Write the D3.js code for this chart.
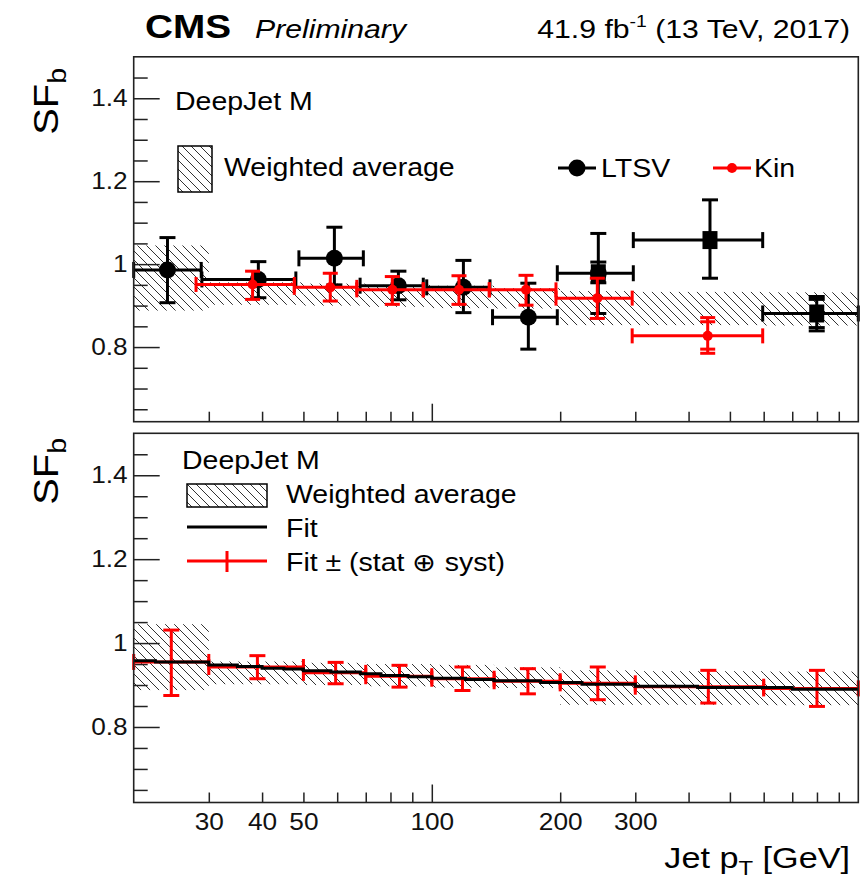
<!DOCTYPE html>
<html><head><meta charset="utf-8">
<script src="https://cdn.jsdelivr.net/npm/d3@7"></script>
<style>body{margin:0;background:#fff}svg{display:block}</style>
</head><body><svg id="c" width="864" height="889"></svg>
<script>
// ---------------- data ----------------
const xTickLabels = [30, 40, 50, 100, 200, 300];
const xMinorTicks = [30, 40, 50, 60, 70, 80, 90, 200, 300, 400, 500, 600, 700, 800, 900];
const xMajorTicks = [100];
const yMajorTicks = [0.8, 1.0, 1.2, 1.4];
const yMinorTicks = [0.65, 0.7, 0.75, 0.85, 0.9, 0.95, 1.05, 1.1, 1.15, 1.25, 1.3, 1.35, 1.45];

// LTSV
const ltsvPt   = [24.0, 39.2, 59.1, 83.5, 118.6, 168.4, 245.7, 449, 799];
const ltsvPtLo = [20, 28.9, 48.8, 67.9, 97.3, 138.8, 196.9, 296.8, 596.8];
const ltsvPtHi = [28.8, 48.0, 69.1, 95.5, 136.9, 196.9, 296.8, 596.8, 1000];
const ltsvSF   = [0.986, 0.963, 1.014, 0.948, 0.944, 0.872, 0.978, 1.058, 0.881];
const ltsvSFHi = [1.064, 1.006, 1.089, 0.983, 1.009, 0.954, 1.074, 1.155, 0.922];
const ltsvSFLo = [0.907, 0.919, 0.950, 0.914, 0.883, 0.795, 0.881, 0.966, 0.839];
const ltsvInnerHi = [null, null, null, null, null, null, 1.005, null, 0.915];
const ltsvInnerLo = [null, null, null, null, null, null, 0.955, null, 0.847];
const ltsvMarker = ["c", "c", "c", "c", "c", "c", "cs", "s", "s"];

// Kin
const kinPt   = [38.0, 57.8, 80.8, 115.8, 166.3, 244.4, 443.5];
const kinPtLo = [28.0, 47.6, 66.7, 95.5, 136.4, 195.5, 295];
const kinPtHi = [47.6, 66.7, 95.5, 136.4, 195.5, 295, 596.8];
const kinSF   = [0.951, 0.944, 0.938, 0.938, 0.938, 0.918, 0.827];
const kinSFHi = [0.983, 0.978, 0.970, 0.972, 0.973, 0.966, 0.871];
const kinSFLo = [0.915, 0.911, 0.903, 0.903, 0.901, 0.869, 0.785];
const kinInnerHi = [null, null, null, null, null, null, 0.861];
const kinInnerLo = [null, null, null, null, null, null, 0.795];

// Weighted average band
const bandEdges = [20, 30, 50, 70, 100, 140, 200, 300, 600, 1000];
const bandLow   = [0.888, 0.902, 0.900, 0.897, 0.894, 0.893, 0.853, 0.853, 0.852];
const bandHigh  = [1.045, 0.956, 0.953, 0.950, 0.948, 0.942, 0.935, 0.933, 0.932];

// Fit (stepped curve)
const fitEdges = [20, 22.5, 30, 35, 40, 45, 50, 58, 68, 76, 88, 100, 120, 140, 180, 225, 300, 420, 700, 1000];
const fitVals  = [0.958, 0.955, 0.948, 0.944, 0.940, 0.938, 0.934, 0.931, 0.927, 0.923, 0.920, 0.916, 0.913, 0.910, 0.906, 0.902, 0.897, 0.894, 0.890];

// Fit +- (stat (+) syst)
const fitPt   = [24.5, 39, 59.5, 84, 118, 168, 245, 445, 800];
const fitPtLo = [20, 30, 50, 70, 100, 140, 200, 300, 600];
const fitPtHi = [30, 50, 70, 100, 140, 200, 300, 600, 1000];
const fitSF   = [0.955, 0.943, 0.929, 0.921, 0.915, 0.909, 0.904, 0.896, 0.892];
const fitSFHi = [1.031, 0.970, 0.954, 0.947, 0.943, 0.939, 0.943, 0.935, 0.935];
const fitSFLo = [0.875, 0.915, 0.903, 0.895, 0.887, 0.879, 0.865, 0.857, 0.849];

// ---------------- layout ----------------
const SX = 1.14;
const FONT = "'Liberation Sans', Arial, Helvetica, sans-serif";
const xL = 133.7, xR = 858.3;
const top1 = 56.8, bot1 = 421.7, top2 = 433.3, bot2 = 802.5;
const RED = "#ff0000";

const svg = d3.select("#c");
const x = d3.scaleLog().domain([20, 1000]).range([xL, xR]);
const yT = d3.scaleLinear().domain([0.62, 1.5]).range([bot1, top1]);
const yB = d3.scaleLinear().domain([0.62, 1.5]).range([bot2, top2]);

// hatch pattern
const defs = svg.append("defs");
const pat = defs.append("pattern").attr("id", "hatch").attr("patternUnits", "userSpaceOnUse")
  .attr("width", 9).attr("height", 9);
pat.append("path").attr("d", "M0,0 L9,9 M-3,6 L3,12 M6,-3 L12,3")
  .attr("stroke", "#333").attr("stroke-width", 1).attr("fill", "none");

function txt(parent, px, py, anchor, size, opts = {}) {
  const g = parent.append("g").attr("transform", `translate(${px},${py})${opts.rot ? " rotate(" + opts.rot + ")" : ""} scale(${SX},1)`);
  return g.append("text").attr("text-anchor", anchor).attr("font-size", size)
    .attr("font-family", FONT).attr("font-weight", opts.bold ? "bold" : "normal")
    .attr("font-style", opts.italic ? "italic" : "normal").attr("fill", "#000");
}

function panel(y, yTopPx, yBotPx, showXLabels) {
  const g = svg.append("g");
  // band
  g.append("g").selectAll("rect").data(bandLow).join("rect")
    .attr("x", (d, i) => x(bandEdges[i])).attr("width", (d, i) => x(bandEdges[i + 1]) - x(bandEdges[i]))
    .attr("y", (d, i) => y(bandHigh[i])).attr("height", (d, i) => y(bandLow[i]) - y(bandHigh[i]))
    .attr("fill", "url(#hatch)");
  // y axes
  const yMaj = d3.axisLeft(y).tickValues(yMajorTicks).tickSizeInner(-26).tickSizeOuter(0)
    .tickPadding(6).tickFormat(d => d === 1 ? "1" : d3.format(".1f")(d));
  const ya = g.append("g").attr("transform", `translate(${xL},0)`).call(yMaj);
  ya.select(".domain").remove();
  ya.selectAll("line").attr("stroke", "#222").attr("stroke-width", 1.5);
  ya.selectAll("text").attr("font-size", 23).attr("font-family", FONT).attr("fill", "#111")
    .attr("x", -6 / SX).attr("transform", `scale(${SX},1)`);
  const yMin = d3.axisLeft(y).tickValues(yMinorTicks).tickSizeInner(-14).tickSizeOuter(0).tickFormat("");
  const ym = g.append("g").attr("transform", `translate(${xL},0)`).call(yMin);
  ym.select(".domain").remove();
  ym.selectAll("line").attr("stroke", "#222").attr("stroke-width", 1.5);
  // x axes
  const fmt = d => showXLabels && xTickLabels.includes(d) ? String(d) : "";
  [[xMinorTicks, -10], [xMajorTicks, -18]].forEach(([vals, len]) => {
    const ax = d3.axisBottom(x).tickValues(vals).tickSizeInner(len).tickSizeOuter(0)
      .tickPadding(11).tickFormat(fmt);
    const xa = g.append("g").attr("transform", `translate(0,${yBotPx})`).call(ax);
    xa.select(".domain").remove();
    xa.selectAll("line").attr("stroke", "#222").attr("stroke-width", 1.5);
    xa.selectAll("text").attr("font-size", 23).attr("font-family", FONT).attr("fill", "#111")
      .attr("transform", `scale(${SX},1)`);
  });
  return g;
}

function errorBars(g, y, pt, lo, hi, sf, sfLo, sfHi, color, cap, inHi, inLo) {
  const eb = g.append("g").attr("stroke", color).attr("stroke-width", 3).attr("fill", "none");
  pt.forEach((p, i) => {
    const cx = x(p), cy = y(sf[i]);
    const x1 = x(lo[i]), x2 = x(hi[i]);
    const yh = y(sfHi[i]), yl = y(sfLo[i]);
    eb.append("line").attr("x1", x1).attr("x2", x2).attr("y1", cy).attr("y2", cy);
    eb.append("line").attr("x1", cx).attr("x2", cx).attr("y1", yh).attr("y2", yl);
    eb.append("line").attr("x1", x1).attr("x2", x1).attr("y1", cy - cap).attr("y2", cy + cap);
    eb.append("line").attr("x1", x2).attr("x2", x2).attr("y1", cy - cap).attr("y2", cy + cap);
    eb.append("line").attr("x1", cx - cap).attr("x2", cx + cap).attr("y1", yh).attr("y2", yh);
    eb.append("line").attr("x1", cx - cap).attr("x2", cx + cap).attr("y1", yl).attr("y2", yl);
    if (inHi && inHi[i] != null) {
      [inHi[i], inLo[i]].forEach(v => eb.append("line").attr("x1", cx - cap).attr("x2", cx + cap)
        .attr("y1", y(v)).attr("y2", y(v)));
    }
  });
  return eb;
}

// ---------------- top panel ----------------
const gTop = panel(yT, top1, bot1, false);
errorBars(gTop, yT, ltsvPt, ltsvPtLo, ltsvPtHi, ltsvSF, ltsvSFLo, ltsvSFHi, "#000", 8, ltsvInnerHi, ltsvInnerLo);
const mk = gTop.append("g");
ltsvPt.forEach((p, i) => {
  const cx = x(p), cy = yT(ltsvSF[i]);
  if (ltsvMarker[i].includes("c")) mk.append("circle").attr("cx", cx).attr("cy", cy).attr("r", 8.5).attr("fill", "#000");
  if (ltsvMarker[i].includes("s")) mk.append("rect").attr("x", cx - 7.5).attr("y", cy - 9).attr("width", 15).attr("height", 18).attr("fill", "#000");
});
errorBars(gTop, yT, kinPt, kinPtLo, kinPtHi, kinSF, kinSFLo, kinSFHi, RED, 7.5, kinInnerHi, kinInnerLo);
gTop.append("g").selectAll("circle").data(kinPt).join("circle")
  .attr("cx", d => x(d)).attr("cy", (d, i) => yT(kinSF[i])).attr("r", 5).attr("fill", RED);

// frame
svg.append("rect").attr("x", xL).attr("y", top1).attr("width", xR - xL).attr("height", bot1 - top1)
  .attr("fill", "none").attr("stroke", "#222").attr("stroke-width", 1.6);

// top legend
txt(svg, 175, 110, "start", 25).text("DeepJet M");
svg.append("rect").attr("x", 178).attr("y", 146).attr("width", 34).attr("height", 46)
  .attr("fill", "url(#hatch)").attr("stroke", "#000").attr("stroke-width", 1.5);
txt(svg, 224, 176, "start", 25).text("Weighted average");
svg.append("line").attr("x1", 558).attr("x2", 596).attr("y1", 168).attr("y2", 168).attr("stroke", "#000").attr("stroke-width", 3);
svg.append("circle").attr("cx", 577).attr("cy", 168).attr("r", 8.5).attr("fill", "#000");
txt(svg, 601, 177, "start", 25).text("LTSV");
svg.append("line").attr("x1", 713).attr("x2", 751).attr("y1", 168).attr("y2", 168).attr("stroke", RED).attr("stroke-width", 3);
svg.append("circle").attr("cx", 732).attr("cy", 168).attr("r", 5).attr("fill", RED);
txt(svg, 754, 177, "start", 25).text("Kin");

// ---------------- bottom panel ----------------
const gBot = panel(yB, top2, bot2, true);
errorBars(gBot, yB, fitPt, fitPtLo, fitPtHi, fitSF, fitSFLo, fitSFHi, RED, 8);
const fitPts = fitEdges.map((e, i) => [e, fitVals[Math.min(i, fitVals.length - 1)]]);
gBot.append("path").datum(fitPts)
  .attr("d", d3.line().x(d => x(d[0])).y(d => yB(d[1])).curve(d3.curveStepAfter))
  .attr("fill", "none").attr("stroke", "#000").attr("stroke-width", 3);
svg.append("rect").attr("x", xL).attr("y", top2).attr("width", xR - xL).attr("height", bot2 - top2)
  .attr("fill", "none").attr("stroke", "#222").attr("stroke-width", 1.6);

// bottom legend
txt(svg, 182, 469, "start", 25).text("DeepJet M");
svg.append("rect").attr("x", 187).attr("y", 484).attr("width", 80).attr("height", 23)
  .attr("fill", "url(#hatch)").attr("stroke", "#000").attr("stroke-width", 1.5);
txt(svg, 286, 503, "start", 25).text("Weighted average");
svg.append("line").attr("x1", 187).attr("x2", 267).attr("y1", 527).attr("y2", 527).attr("stroke", "#000").attr("stroke-width", 3);
txt(svg, 286, 537, "start", 25).text("Fit");
svg.append("line").attr("x1", 187).attr("x2", 267).attr("y1", 561).attr("y2", 561).attr("stroke", RED).attr("stroke-width", 3);
svg.append("line").attr("x1", 227).attr("x2", 227).attr("y1", 551).attr("y2", 572).attr("stroke", RED).attr("stroke-width", 3);
txt(svg, 286, 571, "start", 25).text("Fit \u00B1 (stat \u2295 syst)");

// ---------------- titles ----------------
txt(svg, 145, 38, "start", 34, { bold: true }).text("CMS");
txt(svg, 255, 38, "start", 26.5, { italic: true }).text("Preliminary");
const lumi = txt(svg, 850, 38, "end", 26.5);
lumi.append("tspan").text("41.9 fb");
lumi.append("tspan").attr("font-size", 17).attr("dy", -11).text("-1");
lumi.append("tspan").attr("dy", 11).text(" (13 TeV, 2017)");

function yTitle(py) {
  const t = txt(svg, 58, py, "end", 35, { rot: -90 });
  t.append("tspan").text("SF");
  t.append("tspan").attr("font-size", 25).attr("dy", 8).text("b");
}
yTitle(68);
yTitle(438);

const xt = txt(svg, 850, 868, "end", 30);
xt.append("tspan").text("Jet p");
xt.append("tspan").attr("font-size", 21).attr("dy", 7).text("T");
xt.append("tspan").attr("dy", -7).text(" [GeV]");
</script></body></html>
